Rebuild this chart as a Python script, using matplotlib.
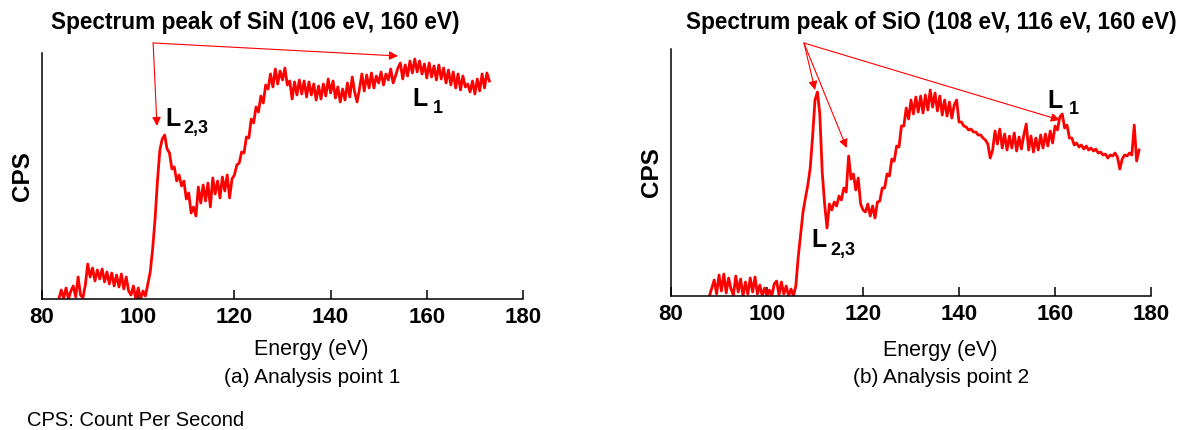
import numpy as np
import matplotlib
matplotlib.use("Agg")
import matplotlib.pyplot as plt

plt.rcParams['font.family'] = ['Liberation Sans', 'DejaVu Sans']

# ---- data (CPS in arbitrary units) ----
energy_a = np.arange(83.5, 173.25, 0.5)
cps_a = [
    0, 9, 1, 11, 0, 8, 13, 2, 22, 4,
    1, 14, 35, 22, 31, 18, 29, 20, 30, 17,
    27, 15, 26, 13, 24, 12, 25, 10, 22, 8,
    4, 13, 0, 11, 0, 8, 3, 15, 27, 50,
    80, 118, 149, 160, 164, 150, 146, 130, 132, 118,
    124, 113, 118, 100, 106, 86, 92, 83, 112, 96,
    114, 98, 116, 92, 121, 105, 118, 101, 122, 108,
    124, 101, 120, 124, 134, 136, 147, 146, 162, 161,
    180, 176, 192, 187, 203, 196, 214, 210, 225, 212,
    230, 215, 228, 219, 231, 214, 218, 200, 217, 204,
    219, 205, 218, 202, 217, 204, 215, 199, 213, 200,
    215, 203, 220, 206, 218, 201, 212, 197, 210, 199,
    216, 202, 222, 207, 197, 210, 225, 208, 224, 211,
    226, 211, 223, 216, 227, 214, 225, 219, 230, 216,
    223, 231, 236, 220, 234, 223, 238, 226, 240, 227,
    238, 225, 235, 221, 236, 222, 233, 219, 234, 220,
    231, 216, 229, 214, 227, 211, 225, 209, 223, 212,
    215, 207, 218, 205, 220, 208, 225, 211, 226, 218,
]

energy_b = np.arange(88.0, 177.75, 0.5)
cps_b = [
    0, 8, 16, 2, 21, 5, 22, 3, 18, 7,
    1, 20, 4, 17, 0, 14, 2, 18, 4, 19,
    2, 11, 0, 8, 0, 6, 0, 12, 15, 1,
    14, 2, 10, 0, 7, 0, 10, 39, 62, 84,
    98, 111, 128, 160, 196, 204, 182, 124, 92, 68,
    92, 86, 94, 90, 100, 96, 108, 104, 140, 117,
    122, 106, 118, 92, 86, 84, 92, 80, 90, 78,
    94, 95, 108, 108, 122, 120, 137, 135, 150, 149,
    170, 170, 188, 177, 196, 182, 199, 184, 200, 183,
    201, 186, 206, 189, 203, 185, 200, 181, 196, 180,
    194, 178, 191, 196, 174, 174, 170, 169, 166, 167,
    164, 164, 161, 161, 158, 156, 152, 138, 146, 165,
    152, 167, 148, 162, 146, 160, 148, 163, 145, 159,
    147, 161, 172, 146, 160, 144, 158, 146, 161, 148,
    162, 150, 165, 153, 170, 166, 179, 182, 168, 171,
    158, 158, 151, 153, 149, 151, 147, 150, 146, 148,
    145, 147, 143, 144, 141, 142, 138, 141, 140, 143,
    139, 127, 137, 141, 140, 143, 141, 171, 135, 146,
]

x_ticks = [80, 100, 120, 140, 160, 180]
titles = ['Spectrum peak of SiN (106 eV, 160 eV)',
          'Spectrum peak of SiO (108 eV, 116 eV, 160 eV)']
captions = ['(a) Analysis point 1', '(b) Analysis point 2']

# arrow origin / tips and label anchors, in data units of each panel
arrows_a = dict(origin=(103.1, 256), tips=[(103.9, 173), (154.0, 243)])
arrows_b = dict(origin=(107.7, 253), tips=[(110.0, 206), (116.6, 148), (161.0, 176)])
labels_a = [((105.6, 173), '2,3', (109.3, 166)), ((157.1, 193), '1', (161.3, 186))]
labels_b = [((109.3, 49), '2,3', (113.1, 41)), ((158.5, 188), '1', (162.9, 182))]

RED = '#ff0000'

fig = plt.figure(figsize=(11.87, 4.30), dpi=100)
ax_a = fig.add_axes([0.0354, 0.3047, 0.4052, 0.5721])
ax_b = fig.add_axes([0.5653, 0.3116, 0.4044, 0.5744])


def style_axes(ax, ytop, xlab_y):
    ax.set_xlim(80, 180)
    ax.set_ylim(0, ytop)
    for s in ['top', 'right']:
        ax.spines[s].set_visible(False)
    for s in ['left', 'bottom']:
        ax.spines[s].set_linewidth(1.1)
    ax.set_yticks([])
    ax.set_xticks(x_ticks)
    ax.tick_params(axis='x', direction='in', length=6.5, width=1.1, pad=6,
                   labelsize=16)
    for lab in ax.get_xticklabels():
        lab.set_fontweight('bold')
    ax.set_ylabel('CPS', fontsize=17.5, fontweight='bold', labelpad=6)
    ax.set_xlabel('Energy (eV)', fontsize=15.5)
    ax.xaxis.set_label_coords(0.56, xlab_y)
    ax.xaxis.label.set_va('center')


def add_arrows(ax, spec):
    for tip in spec['tips']:
        ax.annotate('', xy=tip, xytext=spec['origin'], annotation_clip=False,
                    arrowprops=dict(arrowstyle='-|>', color=RED, lw=0.8,
                                    mutation_scale=13, shrinkA=0, shrinkB=0))


def add_labels(ax, specs):
    for (lpos, sub, spos) in specs:
        ax.text(lpos[0], lpos[1], 'L', fontsize=18, fontweight='bold',
                ha='left', va='baseline')
        ax.text(spos[0], spos[1], sub, fontsize=13, fontweight='bold',
                ha='left', va='baseline')


ax_a.plot(energy_a, cps_a, color=RED, lw=2.0)
ax_b.plot(energy_b, cps_b, color=RED, lw=2.0)

style_axes(ax_a, 246, -0.207)
style_axes(ax_b, 247, -0.219)
add_arrows(ax_a, arrows_a)
add_arrows(ax_b, arrows_b)
add_labels(ax_a, labels_a)
add_labels(ax_b, labels_b)

fig.text(0.2152, 0.9488, titles[0], fontsize=16.3, fontweight='bold',
         ha='center', va='center')
fig.text(0.7847, 0.9488, titles[1], fontsize=16.3, fontweight='bold',
         ha='center', va='center')
fig.text(0.2628, 0.121, captions[0], fontsize=15, ha='center', va='center')
fig.text(0.7927, 0.121, captions[1], fontsize=15, ha='center', va='center')
fig.text(0.0227, 0.0093, 'CPS: Count Per Second', fontsize=14.5,
         ha='left', va='baseline')

fig.savefig('out.png', dpi=100)
